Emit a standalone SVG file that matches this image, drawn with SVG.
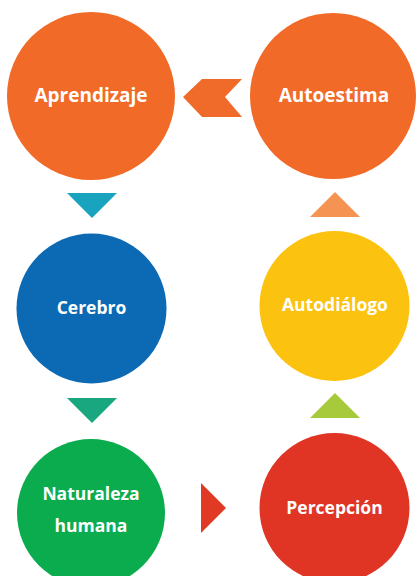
<svg xmlns="http://www.w3.org/2000/svg" width="417" height="576" viewBox="0 0 417 576">
<style>
.lbl{font-family:"Open Sans","Liberation Sans",sans-serif;font-weight:bold;fill:#ffffff;text-anchor:middle}
.big{font-size:19px}
.mid{font-size:17.5px}
</style>
<rect width="417" height="576" fill="#ffffff"/>
<g id="connectors">
<polygon points="183,97 202,79 242,79 225,97 242,117 202,117" fill="#F06A2A"/>
<polygon points="67,193 117,193 92,218" fill="#18A4BE"/>
<polygon points="67,398 117,398 92,423" fill="#19A77F"/>
<polygon points="201,483 201,533 226,508" fill="#E03A24"/>
<polygon points="310,418 360,418 335,393" fill="#A6CA3B"/>
<polygon points="310,217 360,217 335,192" fill="#F59352"/>
</g>
<g id="aprendizaje">
<circle cx="91" cy="96" r="84" fill="#F26A28"/>
<text class="lbl big" x="91" y="102">Aprendizaje</text>
</g>
<g id="autoestima">
<circle cx="333" cy="96" r="83" fill="#F26A28"/>
<text class="lbl big" x="334" y="102">Autoestima</text>
</g>
<g id="cerebro">
<circle cx="91.5" cy="308.5" r="75" fill="#0C69B3"/>
<text class="lbl mid" x="91.5" y="314">Cerebro</text>
</g>
<g id="autodialogo">
<circle cx="334.5" cy="306" r="75" fill="#FCC210"/>
<text class="lbl mid" x="335" y="311">Autodiálogo</text>
</g>
<g id="naturaleza">
<circle cx="91" cy="513" r="74" fill="#0BAC4D"/>
<text class="lbl mid" x="91" y="500">Naturaleza</text>
<text class="lbl mid" x="91" y="532">humana</text>
</g>
<g id="percepcion">
<circle cx="334.5" cy="508" r="75" fill="#E03424"/>
<text class="lbl mid" x="334.5" y="514">Percepción</text>
</g>
</svg>
